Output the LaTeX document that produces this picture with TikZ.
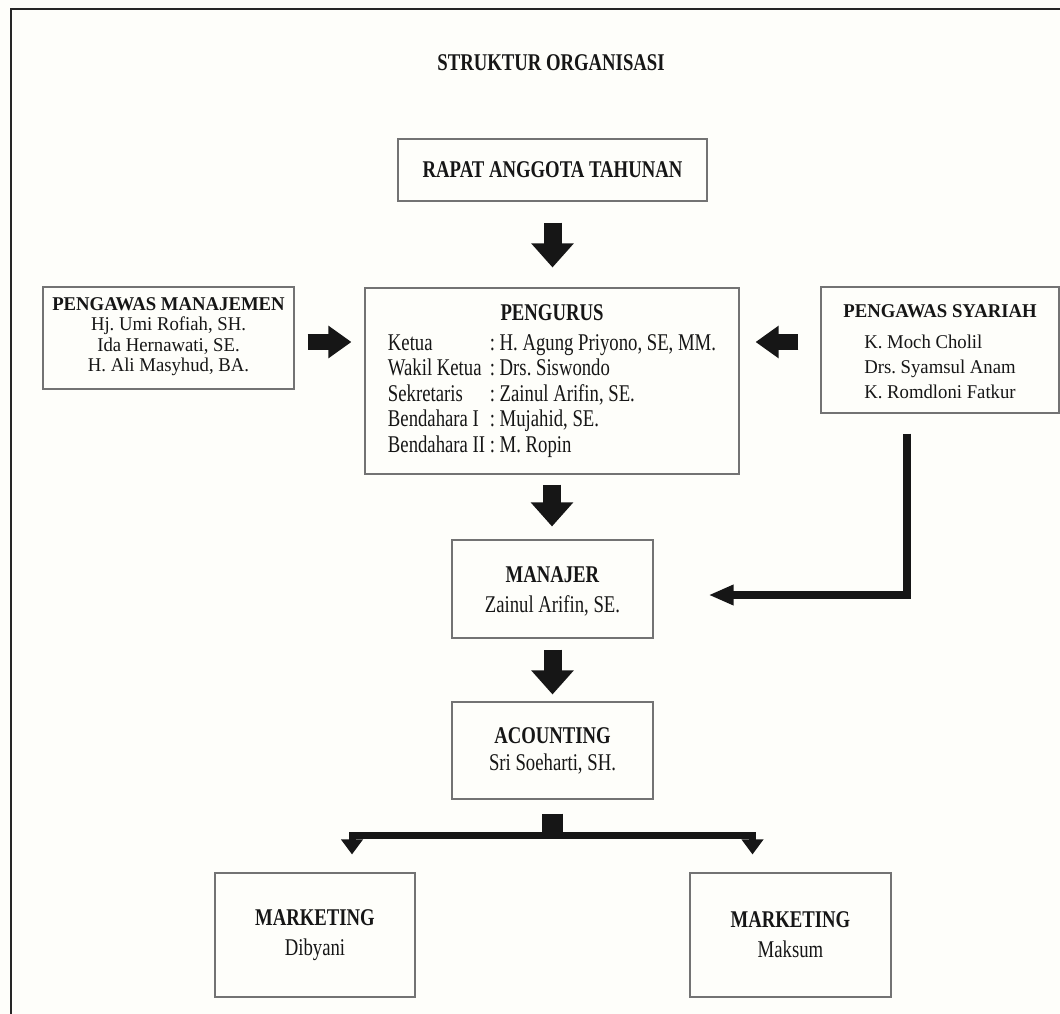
\documentclass[tikz,border=0pt]{standalone}
\usepackage{fontspec}
\setmainfont{Liberation Serif}
\newfontfamily\condfont[FakeStretch=0.78]{Liberation Serif}
\newfontfamily\plainfont[FakeStretch=0.96]{Liberation Serif}
\usetikzlibrary{arrows.meta}
\definecolor{paper}{RGB}{254,254,250}
\definecolor{ink}{RGB}{22,22,22}

\tikzset{
  orgbox/.style={draw=black!55, line width=1.1pt, text=ink, inner sep=0pt, align=center},
  bigfont/.style={font=\condfont\fontsize{24}{25.5}\selectfont},
  smallfont/.style={font=\plainfont\fontsize{19.5}{20.5}\selectfont},
  downarrow/.style={draw=ink, line width=18pt, -{Triangle[length=24pt,width=41pt]}},
  sidearrow/.style={draw=ink, line width=16pt, -{Triangle[length=23pt,width=31pt]}},
  thinarrow/.style={draw=ink, line width=7.5pt, -{Triangle[length=25pt,width=19pt]}},
  forkarrow/.style={draw=ink, line width=7pt, -{Triangle[length=15pt,width=21pt]}},
}

\begin{document}
\frenchspacing
\begin{tikzpicture}[x=1pt,y=-1pt]
%% page and frame
\fill[paper] (0,0) rectangle (1060,1014);
\useasboundingbox (0,0) rectangle (1060,1014);
\draw[line width=2pt, black!85] (1060,9) -- (11,9) -- (11,1014);

\node[font=\condfont\bfseries\fontsize{24}{26}\selectfont, text=ink] (title) at (551,63) {STRUKTUR ORGANISASI};

%% boxes
\node[orgbox, bigfont, minimum width=309pt, minimum height=62pt] (rat) at (552.5,170) {\bfseries RAPAT ANGGOTA TAHUNAN};
\node[orgbox, bigfont, minimum width=374pt, minimum height=186pt] (pengurus) at (552,381) {%
  \begin{tabular}{@{}l@{ }l@{}}
  \multicolumn{2}{c}{\bfseries PENGURUS}\\[4.5pt]
  Ketua & : H. Agung Priyono, SE, MM.\\
  Wakil Ketua & : Drs. Siswondo\\
  Sekretaris & : Zainul Arifin, SE.\\
  Bendahara I & : Mujahid, SE.\\
  Bendahara II & : M. Ropin
  \end{tabular}};
\node[orgbox, smallfont, minimum width=251pt, minimum height=102pt] (pm) at (168.5,338) {\textbf{PENGAWAS MANAJEMEN}\\Hj. Umi Rofiah, SH.\\Ida Hernawati, SE.\\H. Ali Masyhud, BA.\rule[-7pt]{0pt}{0pt}};
\node[orgbox, font=\plainfont\fontsize{19.5}{25}\selectfont, minimum width=238pt, minimum height=126pt] (ps) at (940,350) {\rule{0pt}{23pt}\textbf{PENGAWAS SYARIAH}\\[6pt]\begin{tabular}[t]{@{}l@{}}K. Moch Cholil\\Drs. Syamsul Anam\\K. Romdloni Fatkur\end{tabular}};
\node[orgbox, bigfont, minimum width=201pt, minimum height=98pt] (manajer) at (552.5,589) {\rule{0pt}{21pt}\textbf{MANAJER}\\[4.5pt]Zainul Arifin, SE.};
\node[orgbox, bigfont, minimum width=201pt, minimum height=97pt] (acc) at (552.5,750.5) {\textbf{ACOUNTING}\\[1.5pt]Sri Soeharti, SH.};
\node[orgbox, bigfont, minimum width=200pt, minimum height=124pt] (mkt1) at (315,935) {\textbf{MARKETING}\\[4.5pt]Dibyani};
\node[orgbox, bigfont, minimum width=201pt, minimum height=124pt] (mkt2) at (790.5,935) {\textbf{MARKETING}\\[4.5pt]Maksum};

%% arrows
\draw[downarrow, shorten <=21pt, shorten >=20pt] (rat.south) -- (rat.south |- pengurus.north);
\draw[downarrow, shorten <=10pt, shorten >=13pt] (pengurus.south) -- (pengurus.south |- manajer.north);
\draw[downarrow, shorten <=11pt, shorten >=7pt] (manajer) -- (acc);
\draw[sidearrow, shorten <=13pt, shorten >=13pt] ([yshift=-4pt]pm.east) -- ([yshift=-4pt]pm.east -| pengurus.west);
\draw[sidearrow, shorten <=22pt, shorten >=16pt] ([yshift=8pt]ps.west) -- ([yshift=8pt]ps.west -| pengurus.east);
\draw[thinarrow, shorten <=20pt, shorten >=55pt] ([xshift=-33pt]ps.south) |- ([yshift=-6pt]manajer.east);

%% fork to marketing
\draw[draw=ink, line width=21pt, shorten <=14pt] (acc.south) -- ([yshift=-33pt]acc.south);
\coordinate (fork) at ([yshift=-35.5pt]acc.south);
\draw[forkarrow, shorten >=18pt] (fork) -| ([xshift=37pt]mkt1.north);
\draw[forkarrow, shorten >=18pt] (fork) -| ([xshift=-38pt]mkt2.north);
\end{tikzpicture}
\end{document}
